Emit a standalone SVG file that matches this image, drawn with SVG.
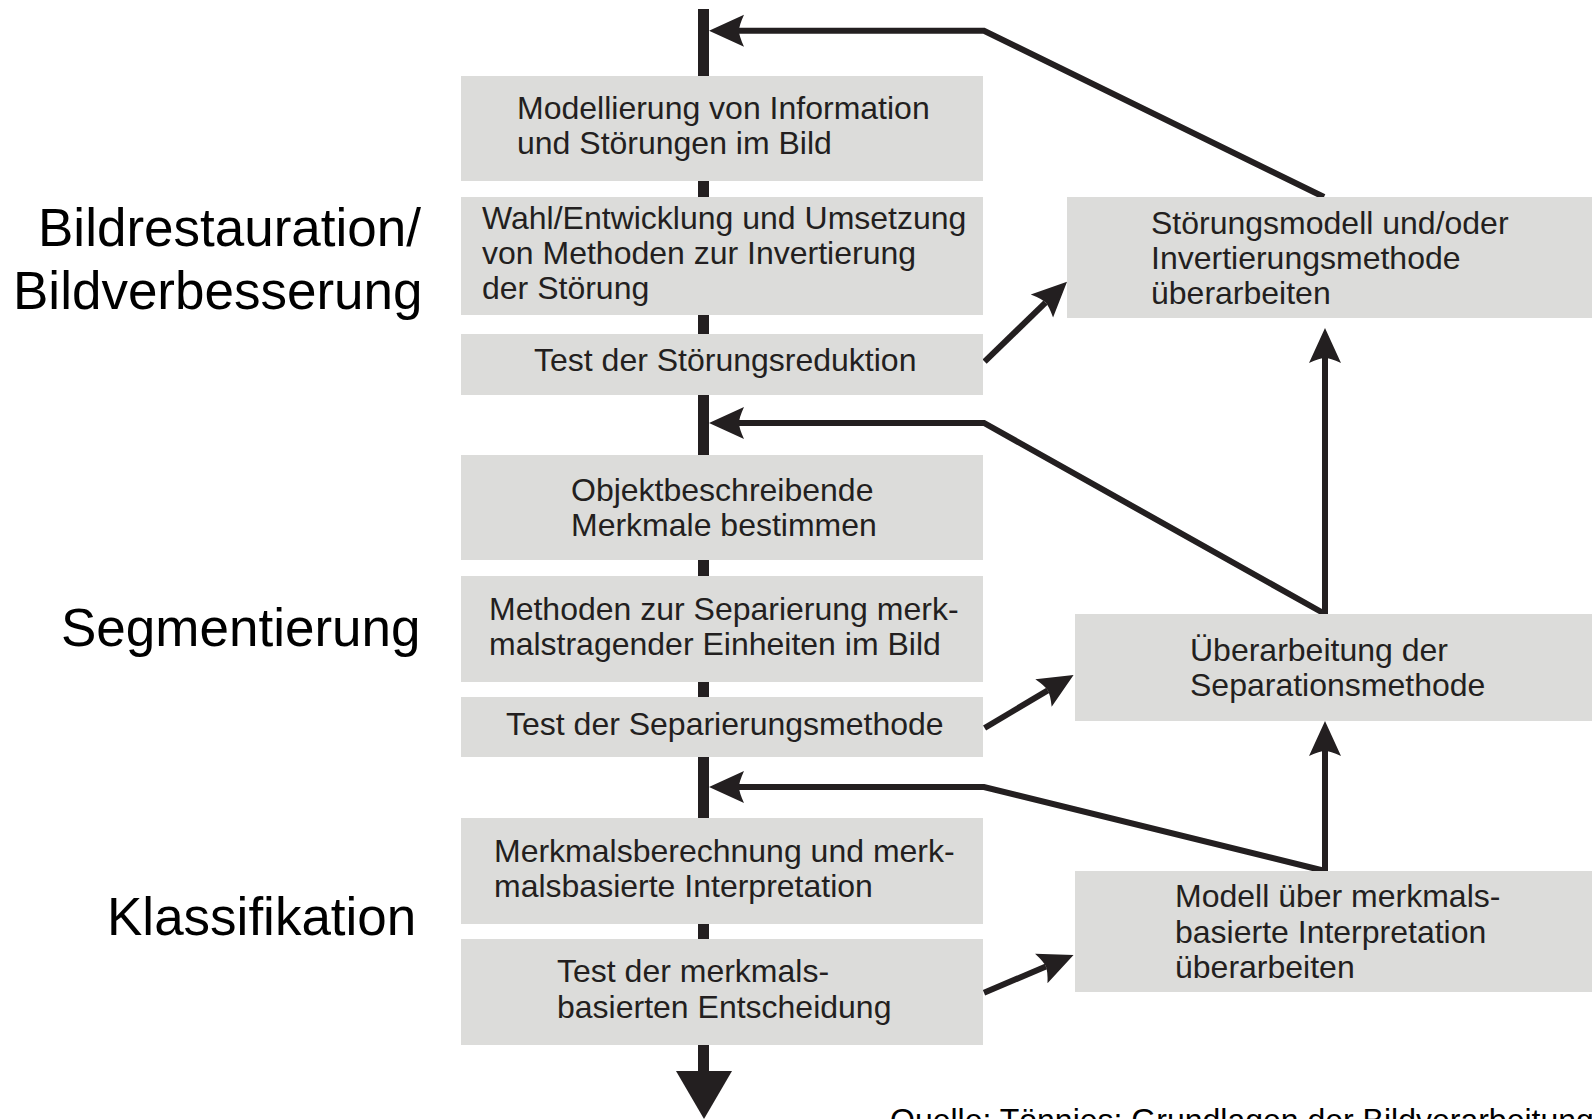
<svg xmlns="http://www.w3.org/2000/svg" width="1592" height="1119" viewBox="0 0 1592 1119">
<style>
.box{fill:#dcdcda;}
.t{font-family:"Liberation Sans",Arial,sans-serif;font-size:32px;fill:#231f20;}
.lbl{font-family:"Liberation Sans",Arial,sans-serif;font-size:53px;fill:#000;}
.src{font-family:"Liberation Sans",Arial,sans-serif;font-size:32px;fill:#000;}
.c{fill:none;stroke:#231f20;stroke-width:6;stroke-linejoin:miter;marker-end:url(#ah);}
</style>
<defs>
<marker id="ah" markerUnits="userSpaceOnUse" markerWidth="40" markerHeight="40" viewBox="-6 -18 40 36" refX="0" refY="0" orient="auto">
<path d="M30,0 L-5,-16 Q0,-5 0,0 Q0,5 -5,16 Z" fill="#231f20"/>
</marker>
</defs>
<rect width="1592" height="1119" fill="#ffffff"/>
<g id="mainflow">
<line x1="703.5" y1="9" x2="703.5" y2="1073" stroke="#231f20" stroke-width="11"/>
<polygon points="676,1071 732,1071 704,1119" fill="#231f20"/>
</g>
<g id="connectors">
<path class="c" d="M1324,197 L984,30.7 L739,30.7"/>
<path class="c" d="M1325,614 L984,423 L739,423"/>
<path class="c" d="M1325,871 L984,787 L739,787"/>
<path class="c" d="M1325,614 L1325,358"/>
<path class="c" d="M1325,871 L1325,751"/>
<path class="c" d="M984.6,361.7 L1045.5,302.6"/>
<path class="c" d="M984.6,728 L1047.8,690.4"/>
<path class="c" d="M984,992.7 L1045.9,966.6"/>
</g>
<g id="n1"><rect class="box" x="461" y="76" width="522" height="105"/>
<text class="t" x="517" y="119">Modellierung von Information</text>
<text class="t" x="517" y="154">und Störungen im Bild</text></g>
<g id="n2"><rect class="box" x="461" y="197" width="522" height="118"/>
<text class="t" x="482" y="229">Wahl/Entwicklung und Umsetzung</text>
<text class="t" x="482" y="264">von Methoden zur Invertierung</text>
<text class="t" x="482" y="299">der Störung</text></g>
<g id="n3"><rect class="box" x="461" y="334" width="522" height="61"/>
<text class="t" x="534" y="371">Test der Störungsreduktion</text></g>
<g id="n4"><rect class="box" x="461" y="455" width="522" height="105"/>
<text class="t" x="571" y="501">Objektbeschreibende</text>
<text class="t" x="571" y="536">Merkmale bestimmen</text></g>
<g id="n5"><rect class="box" x="461" y="576" width="522" height="106"/>
<text class="t" x="489" y="620">Methoden zur Separierung merk-</text>
<text class="t" x="489" y="655">malstragender Einheiten im Bild</text></g>
<g id="n6"><rect class="box" x="461" y="697" width="522" height="60"/>
<text class="t" x="506" y="735">Test der Separierungsmethode</text></g>
<g id="n7"><rect class="box" x="461" y="818" width="522" height="106"/>
<text class="t" x="494" y="862">Merkmalsberechnung und merk-</text>
<text class="t" x="494" y="897">malsbasierte Interpretation</text></g>
<g id="n8"><rect class="box" x="461" y="939" width="522" height="106"/>
<text class="t" x="557" y="982">Test der merkmals-</text>
<text class="t" x="557" y="1018">basierten Entscheidung</text></g>
<g id="r1"><rect class="box" x="1067" y="197" width="525" height="121"/>
<text class="t" x="1151" y="234">Störungsmodell und/oder</text>
<text class="t" x="1151" y="269">Invertierungsmethode</text>
<text class="t" x="1151" y="304">überarbeiten</text></g>
<g id="r2"><rect class="box" x="1075" y="614" width="517" height="107"/>
<text class="t" x="1190" y="661">Überarbeitung der</text>
<text class="t" x="1190" y="696">Separationsmethode</text></g>
<g id="r3"><rect class="box" x="1075" y="871" width="517" height="121"/>
<text class="t" x="1175" y="907">Modell über merkmals-</text>
<text class="t" x="1175" y="943">basierte Interpretation</text>
<text class="t" x="1175" y="978">überarbeiten</text></g>
<g id="labels">
<text class="lbl" x="38" y="246">Bildrestauration/</text>
<text class="lbl" x="13" y="309">Bildverbesserung</text>
<text class="lbl" x="61" y="646">Segmentierung</text>
<text class="lbl" x="107" y="935">Klassifikation</text>
</g>
<text class="src" x="890" y="1131">Quelle: Tönnies: Grundlagen der Bildverarbeitung</text>
</svg>
